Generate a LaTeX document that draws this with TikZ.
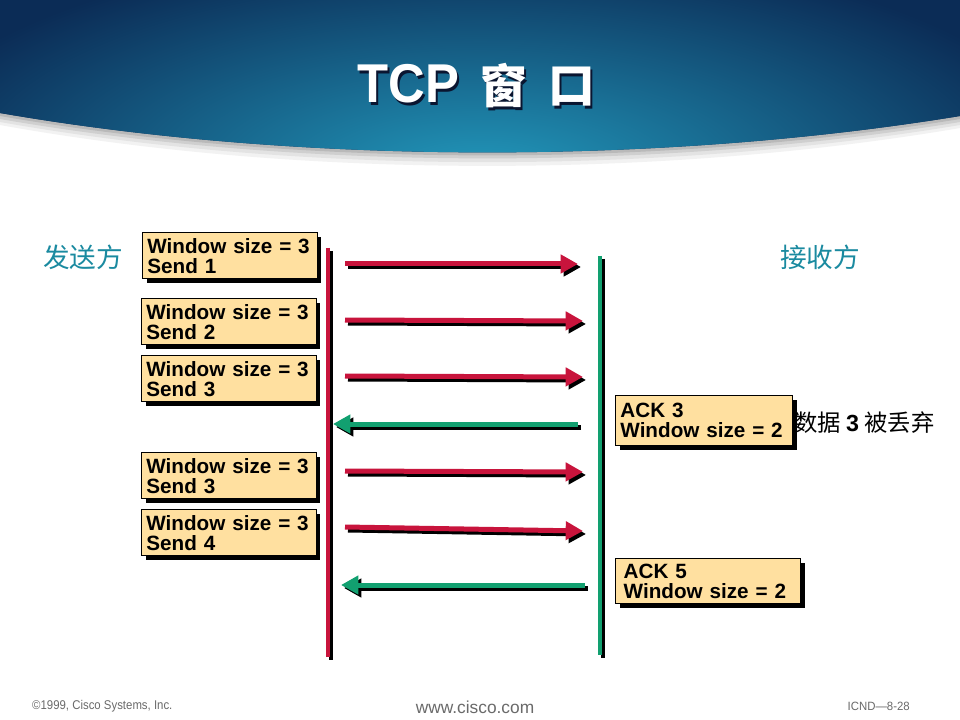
\documentclass[tikz,border=0pt]{standalone}
\usepackage{fontspec}
\setmainfont{Liberation Sans}
\newfontfamily\cjk{Noto Sans CJK SC}
\usetikzlibrary{arrows.meta,shadows}

\definecolor{sendred}{HTML}{C8143C}
\definecolor{ackgreen}{HTML}{12A070}
\definecolor{boxfill}{HTML}{FFE0A0}
\definecolor{labelteal}{HTML}{1A8AA0}
\definecolor{bannerdark}{HTML}{0B2C56}
\definecolor{bannerlight}{HTML}{2299BC}
\definecolor{footgray}{HTML}{6A6A6A}
\definecolor{titleshade}{HTML}{0A1530}

% white title lettering with a dark drop shadow behind it
\newcommand\shadowed[1]{%
  \makebox[0pt][l]{\kern1.6pt\raisebox{-1.6pt}{\textcolor{titleshade}{#1}}}\textcolor{white}{#1}}
% a shadowed arrow between two named points
\newcommand\msgarrow[3]{%
  \draw[arrowshadow] ([xshift=2.25pt,yshift=-2.25pt]#2) -- ([xshift=2.25pt,yshift=-2.25pt]#3);
  \draw[arrowline,draw=#1] (#2) -- (#3);}
% a shadowed life line
\newcommand\lifeline[3]{%
  \draw[lineshadow] ([xshift=2.25pt,yshift=-2.25pt]#2) -- ([xshift=2.25pt,yshift=-2.25pt]#3);
  \draw[lifebar,draw=#1] (#2) -- (#3);}

\begin{document}
\begin{tikzpicture}[x=0.75pt,y=-0.75pt,
  msgbox/.style={draw=black, line width=1.1pt, fill=boxfill,
    drop shadow={shadow xshift=3pt,shadow yshift=-3pt,fill=black,opacity=1},
    anchor=north west, inner xsep=3.5pt, inner ysep=0pt,
    minimum height=34.5pt, text width=124pt, align=left,
    font=\bfseries\fontsize{15.5}{15}\selectfont},
  arrowline/.style={line width=3.75pt, -{Triangle[length=13pt,width=13.5pt]}},
  arrowshadow/.style={arrowline, draw=black},
  lifebar/.style={line width=3pt},
  lineshadow/.style={lifebar, draw=black},
  sidelabel/.style={text=labelteal, font=\cjk\fontsize{20}{20}\selectfont, inner sep=0pt},
  titletext/.style={inner sep=0pt},
  foot/.style={text=footgray, inner sep=0pt}]

\useasboundingbox (0,0) rectangle (960,720);
\fill[white] (0,0) rectangle (960,720);

% ---- title banner with its soft grey shadow ----
\fill[gray!10] (0,0) -- (0,125) .. controls (300,179) and (660,179) .. (960,128) -- (960,0) -- cycle;
\fill[gray!22] (0,0) -- (0,122) .. controls (300,175) and (660,175) .. (960,125) -- (960,0) -- cycle;
\fill[gray!38] (0,0) -- (0,119) .. controls (300,171) and (660,171) .. (960,122) -- (960,0) -- cycle;
\fill[gray!55] (0,0) -- (0,116) .. controls (300,168) and (660,168) .. (960,119) -- (960,0) -- cycle;
\begin{scope}
  \clip (0,0) -- (0,113) .. controls (300,165) and (660,165) .. (960,116) -- (960,0) -- cycle;
  \fill[bannerdark] (0,0) rectangle (960,170);
  \shade[inner color=bannerlight, outer color=bannerdark] (480,175) ellipse (600 and 230);
\end{scope}

% ---- title ----
\node[titletext, anchor=base west, xscale=0.93, font=\bfseries\fontsize{41}{41}\selectfont]
  (ttcp) at (357.5,103) {\shadowed{TCP}};
\begin{scope}[font=\cjk\bfseries\fontsize{35}{35}\selectfont]
  \node[titletext] (tchuang) at (504,87) {\shadowed{窗}};
  \node[titletext] (tkou) at (572,88) {\shadowed{口}};
\end{scope}

% ---- side labels ----
\node[sidelabel] (sender) at (83,257) {发送方};
\node[sidelabel] (receiver) at (820,257) {接收方};

% ---- life lines ----
\coordinate (rtop) at (328,248);
\coordinate (rbot) at (328,657);
\coordinate (gtop) at (600,256);
\coordinate (gbot) at (600,655);
\lifeline{sendred}{rtop}{rbot}
\lifeline{ackgreen}{gtop}{gbot}

% ---- sender boxes ----
\node[msgbox] (s1) at (142,232) {Window size = 3\\Send 1};
\node[msgbox] (s2) at (141,298) {Window size = 3\\Send 2};
\node[msgbox] (s3) at (141,355) {Window size = 3\\Send 3};
\node[msgbox] (s4) at (141,452) {Window size = 3\\Send 3};
\node[msgbox] (s5) at (141,509) {Window size = 3\\Send 4};

% ---- receiver boxes ----
\node[msgbox, text width=125.75pt, minimum height=37.5pt] (a3) at (615,395) {ACK 3\\Window size = 2};
\node[msgbox, text width=126.75pt, minimum height=33.75pt, inner xsep=6pt] (a5) at (615,558) {ACK 5\\Window size = 2};
\node[anchor=west, inner sep=0pt, font=\cjk\fontsize{17.5}{17.5}\selectfont] (drop) at (794,423)
  {数据 {\fontspec{Liberation Sans}\bfseries 3} 被丢弃};

% ---- messages ----
\coordinate (m1a) at (345,264); \coordinate (m1b) at (578,264);
\coordinate (m2a) at (345,320); \coordinate (m2b) at (583,321);
\coordinate (m3a) at (345,376); \coordinate (m3b) at (583,377);
\coordinate (k1a) at (578,424); \coordinate (k1b) at (333,424);
\coordinate (m4a) at (345,471); \coordinate (m4b) at (583,472);
\coordinate (m5a) at (345,527); \coordinate (m5b) at (583,531);
\coordinate (k2a) at (585,585); \coordinate (k2b) at (341,585);
\msgarrow{sendred}{m1a}{m1b}
\msgarrow{sendred}{m2a}{m2b}
\msgarrow{sendred}{m3a}{m3b}
\msgarrow{ackgreen}{k1a}{k1b}
\msgarrow{sendred}{m4a}{m4b}
\msgarrow{sendred}{m5a}{m5b}
\msgarrow{ackgreen}{k2a}{k2b}

% ---- footer ----
\node[foot, anchor=west, xscale=0.9, font=\fontsize{9.5}{9.5}\selectfont] (copy) at (32,706) {©1999, Cisco Systems, Inc.};
\node[foot, font=\fontsize{13}{13}\selectfont] (web) at (475,707) {www.cisco.com};
\node[foot, anchor=east, xscale=0.95, font=\fontsize{9}{9}\selectfont] (page) at (910,706) {ICND—8-28};
\end{tikzpicture}
\end{document}
